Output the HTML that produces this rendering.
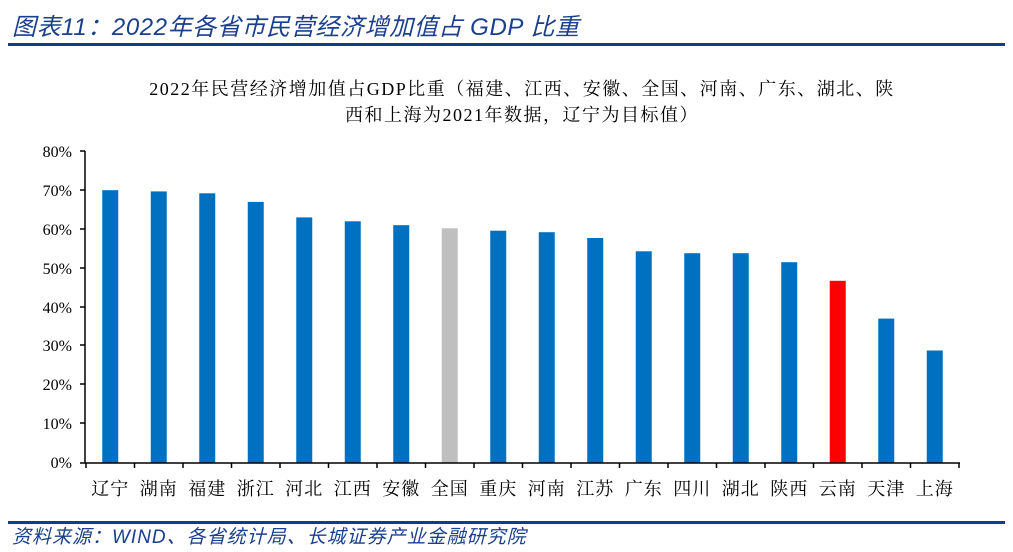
<!DOCTYPE html>
<html><head><meta charset="utf-8"><style>
body{margin:0;width:1013px;height:552px;background:#fff;overflow:hidden;}
</style></head><body>
<svg width="1013" height="552" xmlns="http://www.w3.org/2000/svg" style="position:absolute;left:0;top:0">
<text x="12" y="35" font-size="24" font-style="italic" fill="#1a3f8c" letter-spacing="0.6" font-family="Liberation Sans,Noto Sans CJK SC,sans-serif">图表11：2022年各省市民营经济增加值占 GDP 比重</text>
<rect x="8" y="43" width="997" height="3" fill="#0b3e91"/>
<text x="522" y="95" font-size="18" letter-spacing="1.5" text-anchor="middle" fill="#000" font-family="Liberation Serif,Noto Serif CJK SC,serif">2022年民营经济增加值占GDP比重（福建、江西、安徽、全国、河南、广东、湖北、陕</text>
<text x="522" y="121" font-size="18" letter-spacing="1.5" text-anchor="middle" fill="#000" font-family="Liberation Serif,Noto Serif CJK SC,serif">西和上海为2021年数据，辽宁为目标值）</text>
<g font-family="Liberation Serif,serif" font-size="16" text-anchor="end" fill="#000">
<text x="72" y="157">80%</text><text x="72" y="196">70%</text><text x="72" y="235">60%</text><text x="72" y="274">50%</text><text x="72" y="313">40%</text><text x="72" y="351">30%</text><text x="72" y="390">20%</text><text x="72" y="429">10%</text><text x="72" y="468">0%</text>
</g>
<g fill="#0070c0">
<rect x="102.25" y="190.2" width="16" height="272.3"/>
<rect x="150.75" y="191.4" width="16" height="271.1"/>
<rect x="199.25" y="193.3" width="16" height="269.2"/>
<rect x="247.75" y="201.9" width="16" height="260.6"/>
<rect x="296.25" y="217.4" width="16" height="245.1"/>
<rect x="344.75" y="221.3" width="16" height="241.2"/>
<rect x="393.25" y="225.2" width="16" height="237.3"/>
<rect x="441.75" y="228.3" width="16" height="234.2" fill="#bfbfbf"/>
<rect x="490.25" y="230.7" width="16" height="231.8"/>
<rect x="538.75" y="232.2" width="16" height="230.3"/>
<rect x="587.25" y="238" width="16" height="224.5"/>
<rect x="635.75" y="251.3" width="16" height="211.2"/>
<rect x="684.25" y="253.2" width="16" height="209.3"/>
<rect x="732.75" y="253.2" width="16" height="209.3"/>
<rect x="781.25" y="262.2" width="16" height="200.3"/>
<rect x="829.75" y="280.8" width="16" height="181.7" fill="#ff0000"/>
<rect x="878.25" y="318.6" width="16" height="143.9"/>
<rect x="926.75" y="350.5" width="16" height="112"/>
</g>
<g stroke="#000" stroke-width="1.5">
<line x1="85" y1="151" x2="85" y2="463"/>
<line x1="85" y1="463" x2="960" y2="463"/>
<line x1="80" y1="151" x2="85" y2="151"/><line x1="80" y1="190" x2="85" y2="190"/><line x1="80" y1="229" x2="85" y2="229"/><line x1="80" y1="268" x2="85" y2="268"/><line x1="80" y1="307" x2="85" y2="307"/><line x1="80" y1="345" x2="85" y2="345"/><line x1="80" y1="384" x2="85" y2="384"/><line x1="80" y1="423" x2="85" y2="423"/><line x1="80" y1="463" x2="85" y2="463"/>
<line x1="86" y1="463" x2="86" y2="468"/><line x1="134.5" y1="463" x2="134.5" y2="468"/><line x1="183" y1="463" x2="183" y2="468"/><line x1="231.5" y1="463" x2="231.5" y2="468"/><line x1="280" y1="463" x2="280" y2="468"/><line x1="328.5" y1="463" x2="328.5" y2="468"/><line x1="377" y1="463" x2="377" y2="468"/><line x1="425.5" y1="463" x2="425.5" y2="468"/><line x1="474" y1="463" x2="474" y2="468"/><line x1="522.5" y1="463" x2="522.5" y2="468"/><line x1="571" y1="463" x2="571" y2="468"/><line x1="619.5" y1="463" x2="619.5" y2="468"/><line x1="668" y1="463" x2="668" y2="468"/><line x1="716.5" y1="463" x2="716.5" y2="468"/><line x1="765" y1="463" x2="765" y2="468"/><line x1="813.5" y1="463" x2="813.5" y2="468"/><line x1="862" y1="463" x2="862" y2="468"/><line x1="910.5" y1="463" x2="910.5" y2="468"/><line x1="959" y1="463" x2="959" y2="468"/>
</g>
<g font-size="18" text-anchor="middle" fill="#000" font-family="Liberation Serif,Noto Serif CJK SC,serif" letter-spacing="1">
<text x="110.25" y="495">辽宁</text><text x="158.75" y="495">湖南</text><text x="207.25" y="495">福建</text><text x="255.75" y="495">浙江</text><text x="304.25" y="495">河北</text><text x="352.75" y="495">江西</text><text x="401.25" y="495">安徽</text><text x="449.75" y="495">全国</text><text x="498.25" y="495">重庆</text><text x="546.75" y="495">河南</text><text x="595.25" y="495">江苏</text><text x="643.75" y="495">广东</text><text x="692.25" y="495">四川</text><text x="740.75" y="495">湖北</text><text x="789.25" y="495">陕西</text><text x="837.75" y="495">云南</text><text x="886.25" y="495">天津</text><text x="934.75" y="495">上海</text>
</g>
<rect x="8" y="521" width="997" height="3" fill="#0b3e91"/>
<text x="12" y="543" font-size="19" font-style="italic" letter-spacing="1" fill="#1a3f8c" font-family="Liberation Sans,Noto Sans CJK SC,sans-serif">资料来源：WIND、各省统计局、长城证券产业金融研究院</text>
</svg>
</body></html>
